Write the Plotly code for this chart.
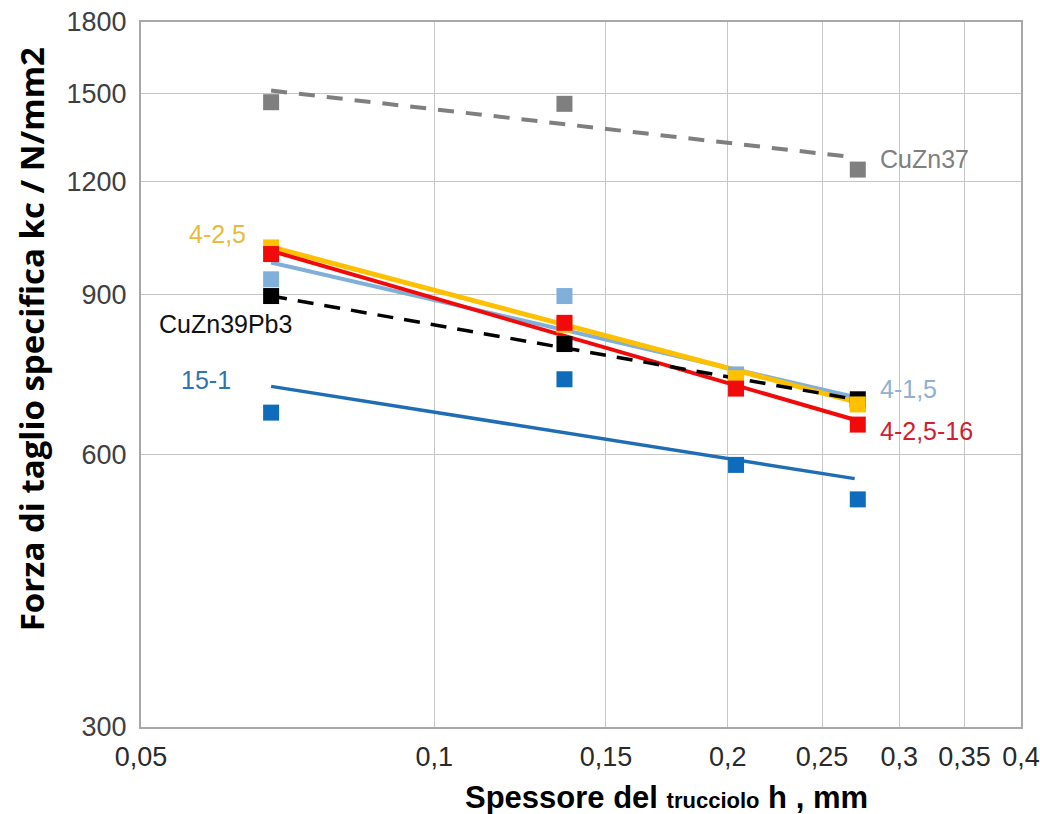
import math
import plotly.graph_objects as go

# ---- data ----
h_values = [0.068, 0.136, 0.204, 0.272]          # chip thickness h, mm
trend_h = [0.068, 0.27]                            # extent of the fitted lines

kc_cuzn37 = [1468, 1462, None, 1237]
kc_4_1_5 = [936, 897, 735, 682]
kc_cuzn39pb3 = [897, 794, None, 690]
kc_4_2_5 = [1015, 834, 728, 681]
kc_4_2_5_16 = [998, 838, 709, 647]
kc_15_1 = [667, 726, 584, 535]

trend_cuzn37 = [1512, 1276]
trend_4_1_5 = [977, 694]
trend_cuzn39pb3 = [897, 690]
trend_4_2_5 = [1016, 686]
trend_4_2_5_16 = [1006, 655]
trend_15_1 = [713, 564]

x_ticks = [0.05, 0.1, 0.15, 0.2, 0.25, 0.3, 0.35, 0.4]
x_tick_labels = ["0,05", "0,1", "0,15", "0,2", "0,25", "0,3", "0,35", "0,4"]
y_ticks = [300, 600, 900, 1200, 1500, 1800]
y_tick_labels = ["300", "600", "900", "1200", "1500", "1800"]

series_names = ["4-1,5", "CuZn39Pb3", "4-2,5", "4-2,5-16", "15-1", "CuZn37"]
# ---------------------------------------

C_GRAY = "#7f7f7f"
C_LBLUE = "#80b0da"
C_BLACK = "#000000"
C_YELLOW = "#ffc000"
C_RED = "#f00a0a"
C_BLUE = "#0f6bbb"

fig = go.Figure()

lines = [
    (trend_4_1_5, C_LBLUE, "solid", 4),
    (trend_4_2_5, C_YELLOW, "solid", 5),
    (trend_4_2_5_16, C_RED, "solid", 4),
    (trend_cuzn39pb3, C_BLACK, "16px,11px", 3.5),
    (trend_15_1, "#1f6db4", "solid", 3.5),
    (trend_cuzn37, C_GRAY, "16px,12px", 4),
]
for vals, col, dash, w in lines:
    fig.add_trace(go.Scatter(x=trend_h, y=vals, mode="lines",
                             line=dict(color=col, width=w, dash=dash),
                             showlegend=False, hoverinfo="skip"))

markers = [
    (kc_4_1_5, C_LBLUE, series_names[0]),
    (kc_cuzn39pb3, C_BLACK, series_names[1]),
    (kc_4_2_5, C_YELLOW, series_names[2]),
    (kc_4_2_5_16, C_RED, series_names[3]),
    (kc_15_1, C_BLUE, series_names[4]),
    (kc_cuzn37, C_GRAY, series_names[5]),
]
for vals, col, name in markers:
    fig.add_trace(go.Scatter(x=h_values, y=vals, mode="markers", name=name,
                             marker=dict(symbol="square", size=16, color=col,
                                         line=dict(width=0)),
                             showlegend=False))

LABEL_FONT = "Liberation Sans, Arial, sans-serif"
labels = [
    ("CuZn37", 0.285, 1272, "left", "#7f7f7f"),
    ("4-2,5", 0.0599, 1051, "center", "#e6bb3e"),
    ("CuZn39Pb3", 0.0611, 836, "center", "#111111"),
    ("15-1", 0.0583, 724, "center", "#2e74b5"),
    ("4-1,5", 0.285, 708, "left", "#8fb0cf"),
    ("4-2,5-16", 0.285, 636, "left", "#cf2030"),
]
for txt, lx, ly, anc, col in labels:
    fig.add_annotation(x=math.log10(lx), y=math.log10(ly), xref="x", yref="y",
                       text=txt, showarrow=False, xanchor=anc, yanchor="middle",
                       font=dict(family=LABEL_FONT, size=25, color=col))

# axis titles
fig.add_annotation(
    x=0.597, y=-0.1, xref="paper", yref="paper", showarrow=False,
    xanchor="center", yanchor="middle",
    text="<b>Spessore del <span style='font-size:22px'>trucciolo</span> h , mm</b>",
    font=dict(family="Liberation Sans Narrow, Liberation Sans, Arial", size=31, color="#000000"))
fig.add_annotation(
    x=-0.125, y=0.55, xref="paper", yref="paper", showarrow=False,
    xanchor="center", yanchor="middle", textangle=-90,
    text="<b>Forza di taglio specifica kc / N/mm2</b>",
    font=dict(family="Open Sans, sans-serif", size=33, color="#000000"))

fig.update_xaxes(
    type="log", range=[math.log10(0.05), math.log10(0.4)],
    tickvals=x_ticks, ticktext=x_tick_labels, automargin=False,
    showgrid=True, gridcolor="#c6c6c6", gridwidth=1.3,
    showline=True, linecolor="#a8a8a8", linewidth=2, mirror=True,
    ticks="", ticklabelstandoff=5, zeroline=False,
    tickfont=dict(family="Liberation Sans Narrow, Liberation Sans, Arial", size=27, color="#2a2a2a"))
fig.update_yaxes(
    type="log", range=[math.log10(300), math.log10(1800)],
    tickvals=y_ticks, ticktext=y_tick_labels, automargin=False,
    showgrid=True, gridcolor="#c6c6c6", gridwidth=1.3,
    showline=True, linecolor="#a8a8a8", linewidth=2, mirror=True,
    ticks="", ticklabelstandoff=7, zeroline=False,
    tickfont=dict(family="Liberation Sans, Arial", size=27, color="#404040"))

fig.update_layout(
    width=1040, height=814,
    margin=dict(l=141, r=19, t=22, b=87),
    paper_bgcolor="white", plot_bgcolor="white",
    showlegend=False,
)

fig.write_html("out.html")
